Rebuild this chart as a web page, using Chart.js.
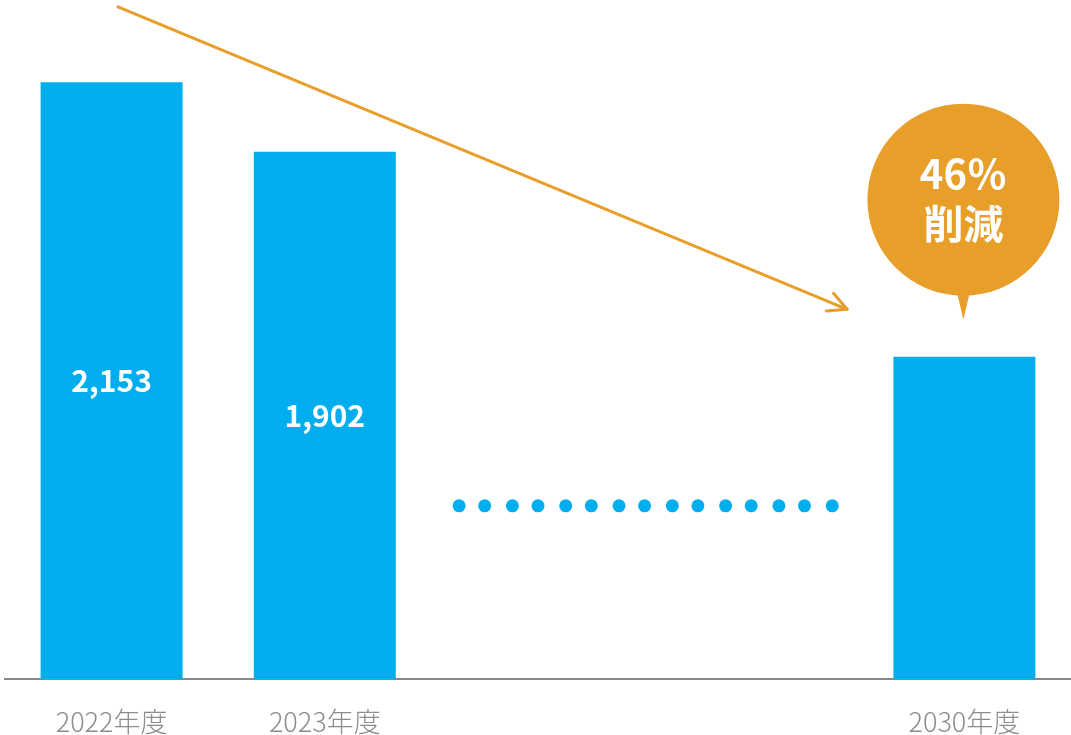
<!DOCTYPE html>
<html lang="ja">
<head>
<meta charset="utf-8">
<title>CO2排出量 削減目標</title>
<script src="https://cdn.jsdelivr.net/npm/chart.js@4.4.1/dist/chart.umd.min.js"></script>
<style>
    html, body {
        margin: 0;
        padding: 0;
        background: #ffffff;
    }
    #chart {
        display: block;
    }
</style>
</head>
<body>
<canvas id="chart" width="1071" height="735"></canvas>
<script>
// data
const categories = ['2022年度', '2023年度', '', '', '2030年度'];
const emissions = [2153, 1902, null, null, 1163];
const barLabels = ['2,153', '1,902', '', '', ''];

// dotted "..." between 2023 and 2030 (x in category units)
const dotX = [1.63, 1.75, 1.88, 2.0, 2.13, 2.25, 2.38, 2.5, 2.63, 2.75, 2.88, 3.0, 3.13, 3.25, 3.38];
const dotLevel = 625;

// trend arrow (start -> end)
const arrowX = [0.03, 3.45];
const arrowY = [2425, 1334];

const bubbleText = ['46％', '削減'];

const BLUE = '#00aeef';
const ORANGE = '#e89f2a';
const FONT = "'Noto Sans CJK JP', 'Noto Sans', sans-serif";

const overlayPlugin = {
    id: 'overlay',
    afterDatasetsDraw(chart) {
        const ctx = chart.ctx;
        const bars = chart.getDatasetMeta(0).data;

        // values inside the bars
        ctx.save();
        ctx.fillStyle = '#ffffff';
        ctx.font = `bold 30px ${FONT}`;
        ctx.textAlign = 'center';
        ctx.textBaseline = 'middle';
        bars.forEach((bar, i) => {
            if (!barLabels[i]) return;
            ctx.fillText(barLabels[i], bar.x, (bar.y + bar.base) / 2);
        });
        ctx.restore();

        // arrow head
        const pts = chart.getDatasetMeta(2).data;
        const p0 = pts[0], p1 = pts[pts.length - 1];
        const ang = Math.atan2(p1.y - p0.y, p1.x - p0.x);
        const len = 21;
        ctx.save();
        ctx.strokeStyle = ORANGE;
        ctx.lineWidth = 3;
        ctx.lineCap = 'round';
        ctx.lineJoin = 'round';
        ctx.beginPath();
        ctx.moveTo(p1.x + len * Math.cos(ang + Math.PI - 0.47), p1.y + len * Math.sin(ang + Math.PI - 0.47));
        ctx.lineTo(p1.x, p1.y);
        ctx.lineTo(p1.x + len * Math.cos(ang + Math.PI + 0.47), p1.y + len * Math.sin(ang + Math.PI + 0.47));
        ctx.stroke();
        ctx.restore();

        // speech bubble above the 2030 bar
        const target = bars[4];
        const cx = target.x - 1;
        const cy = target.y - 157;
        const r = 96;
        ctx.save();
        ctx.fillStyle = ORANGE;
        ctx.beginPath();
        ctx.arc(cx, cy, r, 0, Math.PI * 2);
        ctx.fill();
        ctx.beginPath();
        ctx.moveTo(cx - 7, cy + r - 6);
        ctx.lineTo(cx + 7, cy + r - 6);
        ctx.lineTo(cx, target.y - 37);
        ctx.closePath();
        ctx.fill();
        ctx.fillStyle = '#ffffff';
        ctx.font = `bold 40px ${FONT}`;
        ctx.textAlign = 'center';
        ctx.textBaseline = 'middle';
        ctx.fillText(bubbleText[0], cx, cy - 26);
        ctx.fillText(bubbleText[1], cx, cy + 24);
        ctx.restore();
    }
};

const ctx = document.getElementById('chart').getContext('2d');
const chart = new Chart(ctx, {
    type: 'bar',
    data: {
        labels: categories,
        datasets: [
            {
                data: emissions,
                backgroundColor: BLUE,
                borderWidth: 0,
                grouped: false,
                categoryPercentage: 1,
                barPercentage: 0.666,
                order: 3
            },
            {
                type: 'line',
                xAxisID: 'xl',
                data: dotX.map(x => ({x: x, y: dotLevel})),
                showLine: false,
                pointRadius: 6.5,
                pointBackgroundColor: BLUE,
                pointBorderWidth: 0,
                order: 2
            },
            {
                type: 'line',
                xAxisID: 'xl',
                data: arrowX.map((x, i) => ({x: x, y: arrowY[i]})),
                borderColor: ORANGE,
                borderWidth: 3,
                pointRadius: 0,
                borderCapStyle: 'round',
                order: 1
            }
        ]
    },
    options: {
        responsive: false,
        animation: false,
        layout: {
            autoPadding: false,
            padding: {left: 5, right: -3, top: 0, bottom: 0}
        },
        plugins: {
            legend: {display: false},
            tooltip: {enabled: false}
        },
        scales: {
            x: {
                grid: {display: false, drawTicks: false},
                border: {display: true, color: '#898989', width: 2},
                ticks: {
                    color: '#8c8c8c',
                    font: {family: FONT, size: 27, weight: 300},
                    padding: 27,
                    autoSkip: false,
                    maxRotation: 0
                },
                afterFit(scale) {
                    scale.height = 56;
                }
            },
            xl: {
                type: 'linear',
                display: false,
                offset: false,
                min: -0.5,
                max: 4.5
            },
            y: {
                display: false,
                min: 0,
                max: 2450
            }
        }
    },
    plugins: [overlayPlugin]
});
</script>
</body>
</html>
